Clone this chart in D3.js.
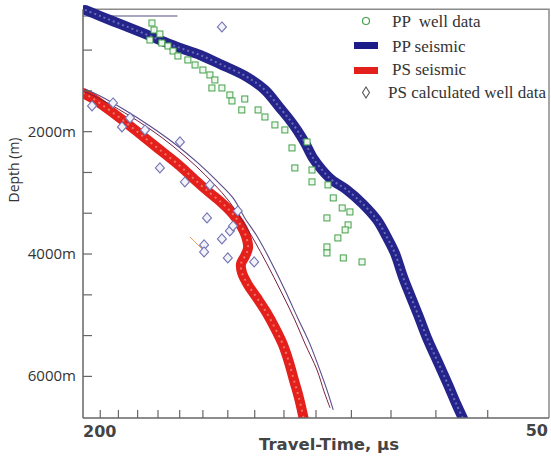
<!DOCTYPE html>
<html>
<head>
<meta charset="utf-8">
<title>Travel time vs depth</title>
<script src="https://cdn.jsdelivr.net/npm/d3@7"></script>
<style>
  * { margin: 0; padding: 0; }
  body { background: #fff; }
  svg { display: block; }
</style>
</head>
<body>
<div id="chart"></div>
<script>
// slowness (us) , depth (m)
var ppSeismic = [[198.8,10],[190,110],[179.2,240],[168.8,369],[159.1,502],[149.9,632],[141.2,747],
  [133.1,894],[122.8,1106],[116.4,1319],[111.3,1613],[108.1,1809],[105.8,1972],[103.3,2185],
  [100.9,2430],[98.2,2626],[95.4,2789],[91.2,2953],[87.0,3181],[83.4,3443],[81.0,3721],
  [79.1,3982],[77.2,4374],[75.6,4668],[73.8,4995],[71.7,5404],[69.6,5763],[67.5,6139],
  [65.8,6466],[64.4,6720]];

var psSeismic = [[200,1368],[194.7,1449],[187.3,1596],[179.2,1776],[171.3,1972],[163.9,2168],
  [156.7,2364],[149.9,2560],[143.3,2789],[137.1,3002],[132.3,3165],[128.4,3329],[125.4,3508],
  [123.2,3704],[122.4,3900],[123.5,4031],[125.0,4162],[124.6,4309],[122.4,4505],[119.2,4717],
  [116.0,4946],[113.0,5207],[110.3,5485],[108.4,5763],[106.8,6057],[105.2,6351],[103.6,6720]];

var ppWell = [[162.9,224],[161.9,338],[163.9,502],[159.1,404],[158.2,551],[155.3,600],[153.0,682],
  [150.8,763],[146.4,828],[143.3,910],[140.0,992],[137.1,1073],[135.1,1155],[136.3,1286],
  [132.3,1286],[129.2,1400],[128.4,1498],[123.6,1466],[124.7,1645],[118.8,1645],[116.4,1760],
  [113.0,1890],[109.7,1972],[107.4,2266],[102.7,2168],[106.5,2593],[101.2,2626],[101.2,2821],
  [96.5,2870],[95.0,3083],[92.5,3247],[90.4,3312],[96.8,3410],[90.9,3524],[91.7,3606],
  [93.7,3737],[96.8,3884],[96.8,3982],[92.2,4064],[87.2,4129]];

var psWell = [[132.3,289],[194.7,1580],[182.9,1531],[178.1,1923],[173.9,1776],[166.3,1972],
  [149.9,2168],[159.1,2593],[147.7,2822],[137.1,2871],[138.3,3410],[126.2,3296],[129.2,3622],
  [128.0,3541],[132.3,3753],[139.5,3851],[139.5,3966],[130.0,4064],[120.2,4129]];

var fitA = [[198.8,1302],[190.1,1417],[176.6,1645],[163.9,1907],[152.1,2201],[142.1,2511],
  [134.3,2805],[128.0,3083],[123.6,3410],[118.8,3737],[114.3,4129],[109.7,4587],[105.6,5044],
  [102.1,5436],[99.1,5861],[96.8,6221],[95.0,6548]];

var fitB = [[200,1335],[190.1,1466],[176.6,1694],[163.9,1956],[152.6,2250],[143.0,2560],
  [135.5,2854],[129.6,3132],[124.7,3443],[120.3,3770],[115.7,4162],[110.9,4619],[106.5,5077],
  [103.3,5469],[99.7,5894],[97.6,6253],[95.9,6515]];

var orangeSeg = [[145.5,3721],[140.0,3933]];
var topLine = [[200,109],[151,109]];

var xTicks = [190,180,170,160,150,140,130,120,110,100,90,80,70,60];
var yTicks = [667,1333,2000,2667,3333,4000,4667,5333,6000];
var yLabels = [2000,4000,6000];

var legendItems = ["PP  well data", "PP seismic", "PS seismic", "PS calculated well data"];

(function() {
  var W = 551, H = 459;
  var pL = 83, pR = 549, pT = 9.3, pB = 418;

  var svg = d3.select('#chart').append('svg')
    .attr('width', W).attr('height', H);

  var x = d3.scaleLog().domain([200, 50]).range([pL, pR]);
  var y = d3.scaleLinear().domain([0, 6680]).range([pT, pB]);

  svg.append('clipPath').attr('id', 'clip')
    .append('rect').attr('x', pL).attr('y', 0).attr('width', pR - pL).attr('height', pB);

  var line = d3.line().x(function(d) { return x(d[0]); }).y(function(d) { return y(d[1]); })
    .curve(d3.curveCatmullRom);
  var straight = d3.line().x(function(d) { return x(d[0]); }).y(function(d) { return y(d[1]); });

  // frame top / right
  svg.append('path')
    .attr('d', 'M' + pL + ',' + pT + 'H' + pR + 'V' + pB)
    .attr('fill', 'none').attr('stroke', '#8a8a8a').attr('stroke-width', 1.5);

  var plot = svg.append('g').attr('clip-path', 'url(#clip)');

  // short line at top
  plot.append('path').datum(topLine).attr('d', straight)
    .attr('stroke', '#8a8aa8').attr('stroke-width', 1.5);

  // PP seismic band
  plot.append('path').datum(ppSeismic).attr('d', line)
    .attr('fill', 'none').attr('stroke', '#24248a').attr('stroke-width', 10)
    .attr('stroke-linecap', 'round');
  plot.append('path').datum(ppSeismic).attr('d', line)
    .attr('fill', 'none').attr('stroke', '#7e7ec8').attr('stroke-width', 2)
    .attr('stroke-dasharray', '2,3').attr('opacity', 0.8);

  // PS seismic band
  plot.append('path').datum(psSeismic).attr('d', line)
    .attr('fill', 'none').attr('stroke', '#e3201b').attr('stroke-width', 10)
    .attr('stroke-linecap', 'round');
  plot.append('path').datum(psSeismic).attr('d', line)
    .attr('fill', 'none').attr('stroke', '#f58a78').attr('stroke-width', 2)
    .attr('stroke-dasharray', '2,4').attr('opacity', 0.8);

  // thin fit lines
  plot.append('path').datum(fitB).attr('d', line)
    .attr('fill', 'none').attr('stroke', '#7a2040').attr('stroke-width', 1);
  plot.append('path').datum(fitA).attr('d', line)
    .attr('fill', 'none').attr('stroke', '#5a4a8a').attr('stroke-width', 1.1);
  plot.append('path').datum(orangeSeg).attr('d', straight)
    .attr('fill', 'none').attr('stroke', '#e8a060').attr('stroke-width', 1);

  // PP well data squares
  plot.selectAll('rect.ppw').data(ppWell).enter().append('rect')
    .attr('class', 'ppw')
    .attr('x', function(d) { return x(d[0]) - 3; })
    .attr('y', function(d) { return y(d[1]) - 3; })
    .attr('width', 6).attr('height', 6)
    .attr('fill', '#eef8ee').attr('stroke', '#44a04a').attr('stroke-width', 1);

  // PS calculated diamonds
  plot.selectAll('path.psw').data(psWell).enter().append('path')
    .attr('class', 'psw')
    .attr('d', function(d) {
      var cx = x(d[0]), cy = y(d[1]);
      return 'M' + cx + ',' + (cy - 5) + 'L' + (cx + 4.5) + ',' + cy + 'L' + cx + ',' + (cy + 5) +
        'L' + (cx - 4.5) + ',' + cy + 'Z';
    })
    .attr('fill', '#f2f2fa').attr('stroke', '#7474b4').attr('stroke-width', 1.1);

  // axes
  var axisColor = '#666';
  svg.append('line').attr('x1', pL).attr('x2', pL).attr('y1', pT).attr('y2', pB)
    .attr('stroke', axisColor).attr('stroke-width', 1.5);
  svg.append('line').attr('x1', pL).attr('x2', pR).attr('y1', pB).attr('y2', pB)
    .attr('stroke', axisColor).attr('stroke-width', 1.5);

  svg.selectAll('line.xt').data(xTicks).enter().append('line')
    .attr('x1', function(d) { return x(d); }).attr('x2', function(d) { return x(d); })
    .attr('y1', pB).attr('y2', pB - 8)
    .attr('stroke', axisColor).attr('stroke-width', 1.2);

  svg.selectAll('line.yt').data(yTicks).enter().append('line')
    .attr('x1', pL).attr('x2', pL + 9)
    .attr('y1', function(d) { return y(d); }).attr('y2', function(d) { return y(d); })
    .attr('stroke', axisColor).attr('stroke-width', 1.2);

  svg.selectAll('text.yl').data(yLabels).enter().append('text')
    .attr('x', 76).attr('y', function(d) { return y(d) + 5; })
    .attr('text-anchor', 'end')
    .style('font-family', 'Open Sans, sans-serif').style('font-size', '15px').style('fill', '#333')
    .text(function(d) { return d + 'm'; });

  svg.append('text')
    .attr('transform', 'translate(19,170) rotate(-90)')
    .attr('text-anchor', 'middle')
    .style('font-family', 'Open Sans, sans-serif').style('font-size', '14px').style('fill', '#333')
    .text('Depth (m)');

  var boldFont = 'DejaVu Sans, sans-serif';
  svg.append('text').attr('x', pL).attr('y', 437)
    .style('font-family', boldFont).style('font-weight', 'bold').style('font-size', '16px')
    .style('fill', '#444').text(x.domain()[0]);
  svg.append('text').attr('x', 548).attr('y', 436).attr('text-anchor', 'end')
    .style('font-family', boldFont).style('font-weight', 'bold').style('font-size', '16px')
    .style('fill', '#444').text(x.domain()[1]);
  svg.append('text').attr('x', 329).attr('y', 450).attr('text-anchor', 'middle')
    .style('font-family', boldFont).style('font-weight', 'bold').style('font-size', '16.5px')
    .style('fill', '#444').text('Travel-Time, \u00b5s');

  // legend
  var lg = svg.append('g');
  lg.append('circle').attr('cx', 366).attr('cy', 21).attr('r', 3.5)
    .attr('fill', '#fff').attr('stroke', '#44a04a').attr('stroke-width', 1.2);
  lg.append('rect').attr('x', 354).attr('y', 42).attr('width', 24).attr('height', 7).attr('fill', '#1c1c88');
  lg.append('rect').attr('x', 354).attr('y', 67).attr('width', 24).attr('height', 7).attr('fill', '#e3201b');
  lg.append('path').attr('d', 'M366,87L369.5,92.5L366,98L362.5,92.5Z')
    .attr('fill', '#fff').attr('stroke', '#555').attr('stroke-width', 1.1);

  var lx = [392, 392, 392, 388];
  var ly = [27, 52, 75, 98];
  lg.selectAll('text').data(legendItems).enter().append('text')
    .attr('x', function(d, i) { return lx[i]; })
    .attr('y', function(d, i) { return ly[i]; })
    .style('white-space', 'pre')
    .style('font-family', 'Liberation Serif, serif').style('font-size', '17px').style('fill', '#333')
    .text(function(d) { return d; });
})();
</script>
</body>
</html>
